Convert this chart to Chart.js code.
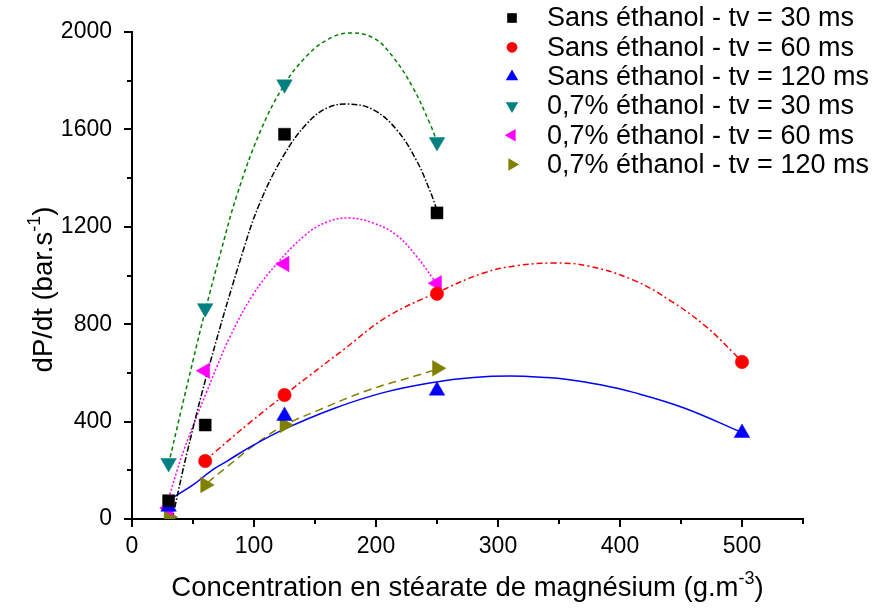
<!DOCTYPE html>
<html>
<head>
<meta charset="utf-8">
<script src="https://cdn.jsdelivr.net/npm/chart.js@4.4.1/dist/chart.umd.min.js"></script>
<style>
html,body{margin:0;padding:0;background:#ffffff;}
#wrap{width:877px;height:610px;position:relative;}
</style>
</head>
<body>
<div id="wrap"><canvas id="c" width="877" height="610"></canvas></div>
<script>
const FONT = '"Liberation Sans", Arial, Helvetica, sans-serif';

// ---- axis settings / tick labels ----
const xMin = 0, xMax = 550, xMajorStep = 100, xMinorStep = 50;
const yMin = 0, yMax = 2000, yMajorStep = 400, yMinorStep = 200;
const xTitle = 'Concentration en stéarate de magnésium (g.m';
const xTitleSup = '-3';
const yTitle = 'dP/dt (bar.s';
const yTitleSup = '-1';

// ---- legend labels ----
const seriesLabels = [
  'Sans éthanol - tv = 30 ms',
  'Sans éthanol - tv = 60 ms',
  'Sans éthanol - tv = 120 ms',
  '0,7% éthanol - tv = 30 ms',
  '0,7% éthanol - tv = 60 ms',
  '0,7% éthanol - tv = 120 ms'
];

// ---- measured points ----
const xSans30 = [30, 60, 125, 250];
const ySans30 = [75, 386, 1580, 1257];
const xSans60 = [60, 125, 250, 500];
const ySans60 = [238, 509, 925, 645];
const xSans120 = [30, 125, 250, 500];
const ySans120 = [50, 423, 527, 353];
const xEth30 = [30, 60, 125, 250];
const yEth30 = [230, 866, 1785, 1548];
const xEth60 = [30, 60, 125, 250];
const yEth60 = [45, 609, 1047, 968];
const xEth120 = [30, 60, 125, 250];
const yEth120 = [8, 140, 386, 619];

// ---- fitted curves ----
const fitSans30X = [33, 45, 64, 91, 105, 124, 143, 160, 178, 198, 217, 233, 244, 250];
const fitSans30Y = [0, 270, 641, 1100, 1300, 1490, 1622, 1688, 1704, 1680, 1598, 1474, 1351, 1268];
const fitSans60X = [60, 68, 97, 125, 146, 173, 209, 251, 288, 315, 345, 373, 411, 443, 471, 493, 500];
const fitSans60Y = [240, 275, 398, 509, 591, 694, 830, 932, 1010, 1040, 1051, 1040, 981, 891, 788, 682, 645];
const fitSans120X = [30, 50, 66, 78, 97, 124, 165, 206, 247, 280, 310, 340, 357, 384, 411, 452, 500];
const fitSans120Y = [78, 140, 202, 238, 296, 367, 453, 519, 561, 581, 587, 581, 573, 551, 520, 457, 355];
const fitEth30X = [30, 40, 50, 60, 73.5, 86, 105, 125, 143, 160, 178, 198, 214, 230, 244, 250];
const fitEth30Y = [225, 440, 650, 855, 1110, 1330, 1590, 1785, 1900, 1968, 1996, 1975, 1897, 1774, 1626, 1550];
const fitEth60X = [30, 37, 43, 53, 61, 70, 80, 99, 119, 143, 160, 178, 198, 217, 233, 247, 250];
const fitEth60Y = [85, 200, 290, 420, 520, 630, 745, 920, 1050, 1170, 1220, 1236, 1215, 1165, 1080, 985, 962];
const fitEth120X = [62, 78, 102, 125, 152, 193, 234, 250];
const fitEth120Y = [150, 215, 310, 385, 445, 528, 590, 615];

const pts = (xs, ys) => xs.map((v, i) => ({x: v, y: ys[i]}));

const markerStyles = [
  {color: '#000000', style: 'rect', rot: 0, r: 8.5},
  {color: '#ff0000', style: 'circle', rot: 0, r: 6.7},
  {color: '#0000ff', style: 'triangle', rot: 0, r: 9},
  {color: '#008080', style: 'triangle', rot: 180, r: 9},
  {color: '#ff00ff', style: 'triangle', rot: 270, r: 9},
  {color: '#808000', style: 'triangle', rot: 90, r: 9}
];
const markerData = [
  pts(xSans30, ySans30), pts(xSans60, ySans60), pts(xSans120, ySans120),
  pts(xEth30, yEth30), pts(xEth60, yEth60), pts(xEth120, yEth120)
];
const curveData = [
  pts(fitSans30X, fitSans30Y), pts(fitSans60X, fitSans60Y), pts(fitSans120X, fitSans120Y),
  pts(fitEth30X, fitEth30Y), pts(fitEth60X, fitEth60Y), pts(fitEth120X, fitEth120Y)
];
const curveStyles = [
  {color: '#000000', dash: [6, 2, 1.5, 2]},
  {color: '#ff0000', dash: [6, 3, 2, 3]},
  {color: '#0000ff', dash: []},
  {color: '#008000', dash: [4, 3]},
  {color: '#ff00ff', dash: [2, 2]},
  {color: '#808000', dash: [8, 5]}
];

const datasets = [];
markerData.forEach((d, i) => {
  const s = markerStyles[i];
  datasets.push({
    label: seriesLabels[i], data: d, showLine: false,
    pointStyle: s.style, rotation: s.rot, pointRadius: s.r,
    pointBackgroundColor: s.color, pointBorderColor: s.color, pointBorderWidth: 0.5
  });
});
curveData.forEach((d, i) => {
  const s = curveStyles[i];
  datasets.push({
    label: 'fit ' + (i + 1), data: d, showLine: true, pointRadius: 0,
    borderColor: s.color, borderWidth: 1.5, borderDash: s.dash,
    tension: 0.4, fill: false
  });
});

function drawMarker(ctx, style, rot, r, x, y) {
  ctx.beginPath();
  if (style === 'rect') {
    const h = r * Math.SQRT1_2;
    ctx.rect(x - h, y - h, 2 * h, 2 * h);
  } else if (style === 'circle') {
    ctx.arc(x, y, r, 0, Math.PI * 2);
  } else {
    let rad = rot * Math.PI / 180;
    ctx.moveTo(x + Math.sin(rad) * r, y - Math.cos(rad) * r);
    rad += 2 * Math.PI / 3;
    ctx.lineTo(x + Math.sin(rad) * r, y - Math.cos(rad) * r);
    rad += 2 * Math.PI / 3;
    ctx.lineTo(x + Math.sin(rad) * r, y - Math.cos(rad) * r);
    ctx.closePath();
  }
  ctx.fill();
}

const decorPlugin = {
  id: 'decor',
  afterDraw(chart) {
    const ctx = chart.ctx;
    const xs = chart.scales.x, ys = chart.scales.y;
    const ca = chart.chartArea;
    ctx.save();
    // ticks (major and minor)
    ctx.strokeStyle = '#000';
    ctx.lineWidth = 2;
    for (let v = xMin; v <= xMax + 1e-6; v += xMinorStep) {
      const px = Math.round(xs.getPixelForValue(v));
      const len = (v % xMajorStep === 0) ? 8 : 5;
      ctx.beginPath(); ctx.moveTo(px, ca.bottom); ctx.lineTo(px, ca.bottom + len); ctx.stroke();
    }
    for (let v = yMin; v <= yMax + 1e-6; v += yMinorStep) {
      const py = Math.round(ys.getPixelForValue(v));
      const len = (v % yMajorStep === 0) ? 8 : 5;
      ctx.beginPath(); ctx.moveTo(ca.left, py); ctx.lineTo(ca.left - len, py); ctx.stroke();
    }
    // legend
    ctx.fillStyle = '#000';
    ctx.font = '27px ' + FONT;
    ctx.textBaseline = 'middle';
    ctx.textAlign = 'left';
    for (let i = 0; i < 6; i++) {
      const s = markerStyles[i];
      const y = 18 + 29.3 * i;
      ctx.fillStyle = s.color;
      drawMarker(ctx, s.style, s.rot, s.r * 0.8, 512, y);
      ctx.fillStyle = '#000';
      ctx.fillText(seriesLabels[i], 547, y + 1);
    }
    // x title
    ctx.textBaseline = 'alphabetic';
    const big = '27.5px ' + FONT, small = '18px ' + FONT;
    ctx.font = big; const w1 = ctx.measureText(xTitle).width; const w3 = ctx.measureText(')').width;
    ctx.font = small; const w2 = ctx.measureText(xTitleSup).width;
    let x0 = (ca.left + ca.right) / 2 - (w1 + w2 + w3) / 2;
    const by = 596;
    ctx.font = big; ctx.fillText(xTitle, x0, by);
    ctx.font = small; ctx.fillText(xTitleSup, x0 + w1, by - 12);
    ctx.font = big; ctx.fillText(')', x0 + w1 + w2, by);
    // y title
    ctx.translate(52, (ca.top + ca.bottom) / 2 + 14);
    ctx.rotate(-Math.PI / 2);
    ctx.font = big; const v1 = ctx.measureText(yTitle).width; const v3 = ctx.measureText(')').width;
    ctx.font = small; const v2 = ctx.measureText(yTitleSup).width;
    let y0 = -(v1 + v2 + v3) / 2;
    ctx.font = big; ctx.fillText(yTitle, y0, 0);
    ctx.font = small; ctx.fillText(yTitleSup, y0 + v1, -12);
    ctx.font = big; ctx.fillText(')', y0 + v1 + v2, 0);
    ctx.restore();
  }
};

Chart.defaults.font.family = FONT;
Chart.defaults.color = '#000';

new Chart(document.getElementById('c'), {
  type: 'scatter',
  data: {datasets: datasets},
  options: {
    responsive: false,
    animation: false,
    events: [],
    layout: {padding: {top: 32, right: 74, left: 0, bottom: 0}},
    plugins: {legend: {display: false}, tooltip: {enabled: false}, title: {display: false}},
    scales: {
      x: {
        type: 'linear', min: xMin, max: xMax,
        grid: {display: true, drawOnChartArea: false, drawTicks: true, tickLength: 8, tickColor: 'rgba(0,0,0,0)'},
        border: {display: true, color: '#000', width: 2},
        ticks: {
          stepSize: xMinorStep, autoSkip: false, maxRotation: 0, padding: 6,
          font: {size: 23}, color: '#000',
          callback: (v) => (v % xMajorStep === 0 && v <= 500) ? String(v) : ''
        },
        afterFit: (s) => { s.height = 91; }
      },
      y: {
        type: 'linear', min: yMin, max: yMax,
        grid: {display: true, drawOnChartArea: false, drawTicks: true, tickLength: 8, tickColor: 'rgba(0,0,0,0)'},
        border: {display: true, color: '#000', width: 2},
        ticks: {
          stepSize: yMinorStep, autoSkip: false, padding: 12,
          font: {size: 23}, color: '#000',
          callback: (v) => (v % yMajorStep === 0) ? String(v) : ''
        },
        afterFit: (s) => { s.width = 132; }
      }
    }
  },
  plugins: [decorPlugin]
});
</script>
</body>
</html>
